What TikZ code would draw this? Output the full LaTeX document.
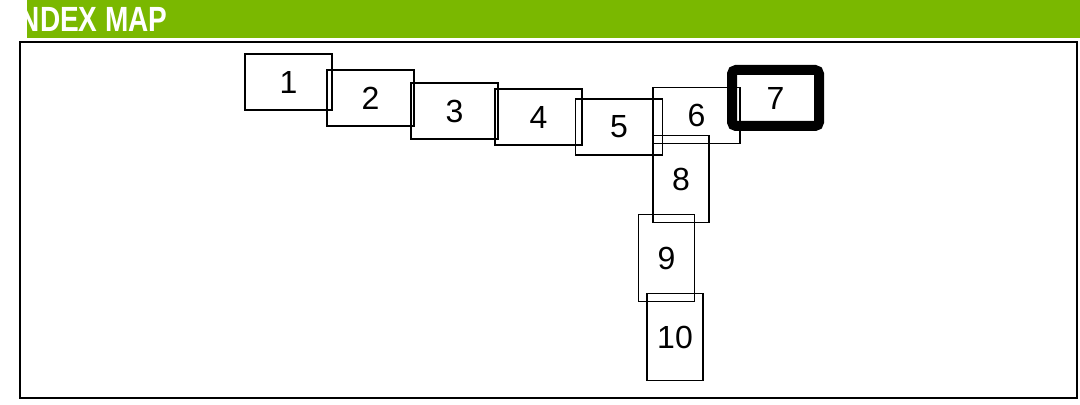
\documentclass[tikz,border=0pt]{standalone}
\usepackage{fontspec}
\setmainfont{Liberation Sans}
\usetikzlibrary{shapes.geometric}

\definecolor{barGreen}{HTML}{7AB800}

\begin{document}
\begin{tikzpicture}[x=0.5pt, y=-0.5pt,
    sheet/.style={rectangle, draw, line width=0.6pt, inner sep=0pt,
                  font=\fontsize{16}{19}\selectfont},
    wide/.style={sheet, minimum width=43.5pt, minimum height=28pt},
    tall/.style={sheet, minimum width=28pt, minimum height=43.5pt},
    current/.style={sheet, line width=5pt, rounded corners=2pt,
                    minimum width=43.5pt, minimum height=28pt}]
    \useasboundingbox (0, 0) rectangle (1080, 405);

    % header bar
    \fill[barGreen] (27, 0) rectangle (1080, 38);
    \begin{scope}
        \clip (27, 0) rectangle (1080, 38);
        \node at (168, 32) [anchor=base east, inner sep=0pt, text=white,
            font=\fontsize{17.5}{21}\selectfont\bfseries] (title)
            {\scalebox{0.8}[1]{INDEX MAP}};
    \end{scope}

    % frame
    \draw[line width=1.4pt] (20, 42) rectangle (1077, 398);

    % sheets
    \node at (288.5, 82) [wide] (b1) {1};
    \node at (370.5, 98) [wide] (b2) {2};
    \node at (454.5, 111) [wide] (b3) {3};
    \node at (538.5, 117) [wide] (b4) {4};
    \node at (619, 127) [wide] (b5) {5};
    \node at (696.5, 115.5) [wide] (b6) {6};
    \node at (775.5, 98) [current] (b7) {7};

    \node at (681, 179) [tall] (b8) {8};
    \node at (666.5, 258) [tall] (b9) {9};
    \node at (675, 337) [tall] (b10) {10};
\end{tikzpicture}
\end{document}
